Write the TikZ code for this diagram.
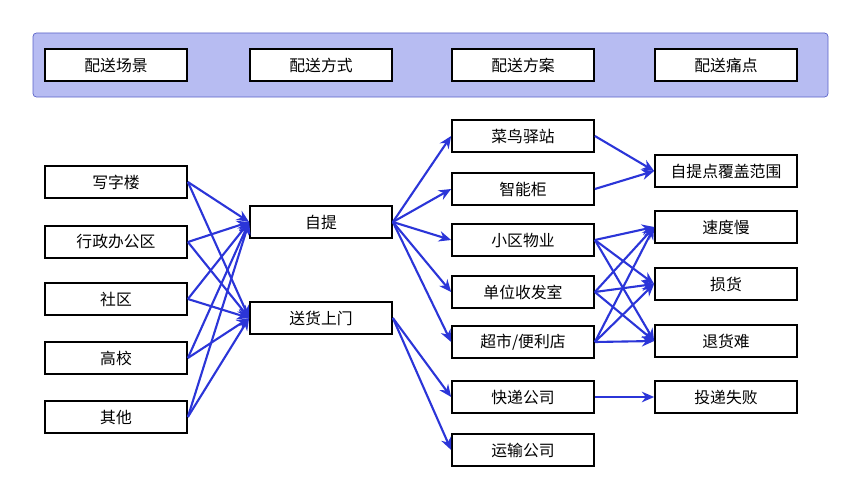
\documentclass[tikz,border=0pt]{standalone}
\usepackage{fontspec}
\setmainfont{Noto Sans CJK SC}
\usetikzlibrary{arrows.meta}
\definecolor{hdrfill}{HTML}{B7BCF2}
\definecolor{hdrline}{HTML}{5A63C8}
\definecolor{arr}{HTML}{2B35D8}
\tikzset{
  box/.style={draw=black, line width=1pt, fill=white, minimum width=2.84cm, minimum height=0.64cm, inner sep=0pt, font=\fontsize{9}{10}\selectfont},
  link/.style={draw=arr, line width=1.2pt, -{Stealth[length=7pt,width=6pt]}}
}
\begin{document}
\begin{tikzpicture}[x=0.02cm, y=-0.02cm]
        \useasboundingbox (0,0) rectangle (861,500);
        % header band
        \draw[hdrline, fill=hdrfill, rounded corners=2pt] (33,33) rectangle (828,97);
        \foreach \x/\name/\label in {116/h1/配送场景, 321/h2/配送方式, 523/h3/配送方案, 726/h4/配送痛点} {
            \node[box] (\name) at (\x,65) {\label};
        }

        % scenes
        \foreach \y/\name/\label in {182/s1/写字楼, 242/s2/行政办公区, 299/s3/社区, 358/s4/高校, 417/s5/其他} {
            \node[box] (\name) at (116,\y) {\label};
        }
        % ways
        \node[box] (zt) at (321,222) {自提};
        \node[box] (sh) at (321,318) {送货上门};
        % plans
        \foreach \y/\name/\label in {136/p1/菜鸟驿站, 189/p2/智能柜, 240/p3/小区物业, 292/p4/单位收发室, 342/p5/{超市/便利店}, 397/p6/快递公司, 450/p7/运输公司} {
            \node[box] (\name) at (523,\y) {\label};
        }
        % pain points
        \foreach \y/\name/\label in {171/q1/自提点覆盖范围, 227/q2/速度慢, 284/q3/损货, 341/q4/退货难, 397/q5/投递失败} {
            \node[box] (\name) at (726,\y) {\label};
        }

        % connectors
        \foreach \s in {s1,s2,s3,s4,s5} {
            \draw[link] (\s.east) -- (zt.west);
            \draw[link] (\s.east) -- (sh.west);
        }
        \foreach \p in {p1,p2,p3,p4,p5} {
            \draw[link] (zt.east) -- (\p.west);
        }
        \draw[link] (sh.east) -- (p6.west);
        \draw[link] (sh.east) -- (p7.west);
        \draw[link] (p1.east) -- (q1.west);
        \draw[link] (p2.east) -- (q1.west);
        \foreach \p in {p3,p4,p5} {
            \foreach \q in {q2,q3,q4} {
                \draw[link] (\p.east) -- (\q.west);
            }
        }
        \draw[link] (p6.east) -- (q5.west);
\end{tikzpicture}
\end{document}
